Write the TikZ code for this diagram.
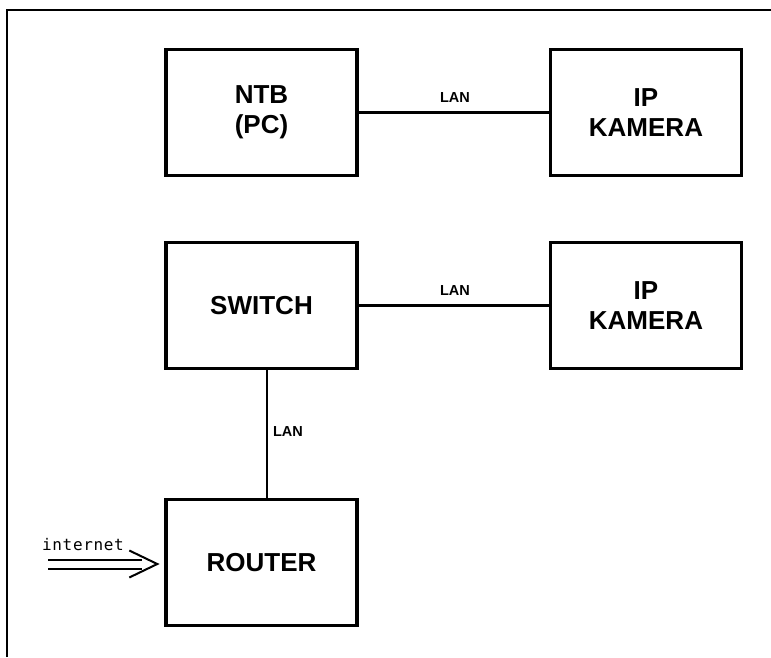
\documentclass[tikz,border=0pt]{standalone}
\usepackage{fontspec}
\setmainfont{Liberation Sans}
\newfontfamily\inetfont[LetterSpace=4]{DejaVu Sans Mono}
\usetikzlibrary{calc}
\begin{document}
\begin{tikzpicture}[x=1pt,y=-1pt,
  devbox/.style={draw, line width=3.4pt, minimum width=191pt, minimum height=126pt,
    inner sep=0pt, align=center, font=\fontsize{26}{30}\selectfont\bfseries},
  link/.style={line width=2.9pt},
  lanlabel/.style={font=\fontsize{14.5}{16}\selectfont\bfseries, inner sep=0pt},
  frameline/.style={line width=1.5pt}]
\useasboundingbox (0,0) rectangle (771,657);
\coordinate (ftl) at (7,10);
\coordinate (ftr) at (771,10);
\coordinate (fbl) at (7,657);
\draw[frameline] (fbl) -- (ftl) -- (ftr);

\node[devbox] (ntb) at (261.5,112.5) {NTB\\(PC)};
\node[devbox] (cam1) at (646,112.5) {IP\\KAMERA};
\node[devbox] (sw) at (261.5,305.5) {SWITCH};
\node[devbox] (cam2) at (646,305.5) {IP\\KAMERA};
\node[devbox] (router) at (261.5,562.5) {ROUTER};

\draw[link] (ntb.east) -- (cam1.west);
\draw[link] (sw.east) -- (cam2.west);
\draw[link] ($(sw.south)+(5.5,0)$) -- ($(router.north)+(5.5,0)$);

\node[lanlabel] (lan1) at (455,98) {LAN};
\node[lanlabel] (lan2) at (455,291) {LAN};
\node[lanlabel] (lan3) at (288,431.5) {LAN};

\node[font=\fontsize{16}{18}\selectfont\inetfont, inner sep=0pt, anchor=base west] (inet) at (42,550) {internet};

\coordinate (tip) at ($(router.west)+(-7,1.5)$);
\coordinate (a1) at (48,559.5);
\coordinate (a2) at (48,568.5);
\draw[line width=2pt] (a1) -- ($(tip)+(-15,-4.5)$);
\draw[line width=2pt] (a2) -- ($(tip)+(-15,4.5)$);
\draw[line width=2pt] ($(tip)+(-28,-13.5)$) -- (tip) -- ($(tip)+(-28,13.5)$);
\end{tikzpicture}
\end{document}
